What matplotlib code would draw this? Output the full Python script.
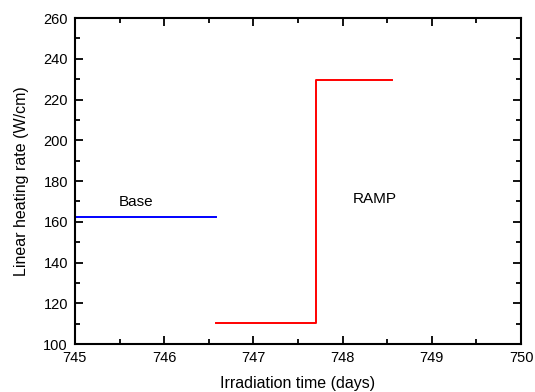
import matplotlib
matplotlib.use("Agg")
from matplotlib import pyplot as plt
from matplotlib.ticker import MultipleLocator

plt.rcParams['font.family'] = ['Liberation Sans', 'DejaVu Sans']

# base irradiation (steady power)
base_t = [745.0, 746.58]
base_q = [162.5, 162.5]
# ramp: low power then step up
ramp_t = [746.58, 747.70, 747.70, 748.55]
ramp_q = [110.3, 110.3, 229.8, 229.8]

fig = plt.figure(figsize=(5.35, 3.92), dpi=100)
ax = fig.add_axes([0.140, 0.1224, 0.834, 0.8316])

ax.plot(base_t, base_q, color='#0000ff', lw=1.4)
ax.plot(ramp_t, ramp_q, color='#ff0000', lw=1.4)

ax.text(745.68, 169.5, 'Base', fontsize=11, ha='center', va='center')
ax.text(748.36, 171, 'RAMP', fontsize=11, ha='center', va='center')

ax.set_xlim(745, 750)
ax.set_ylim(100, 260)
ax.xaxis.set_major_locator(MultipleLocator(1))
ax.xaxis.set_minor_locator(MultipleLocator(0.5))
ax.yaxis.set_major_locator(MultipleLocator(20))
ax.yaxis.set_minor_locator(MultipleLocator(10))
ax.tick_params(which='both', direction='in', top=True, right=True, labelsize=10.5, width=1.3)
ax.tick_params(which='major', length=6, pad=5)
ax.tick_params(which='minor', length=3.5)
for s in ax.spines.values():
    s.set_linewidth(1.5)

ax.set_xlabel('Irradiation time (days)', fontsize=11.5, labelpad=8)
ax.set_ylabel('Linear heating rate (W/cm)', fontsize=11.5, labelpad=10)

fig.savefig('out.png', dpi=100)
